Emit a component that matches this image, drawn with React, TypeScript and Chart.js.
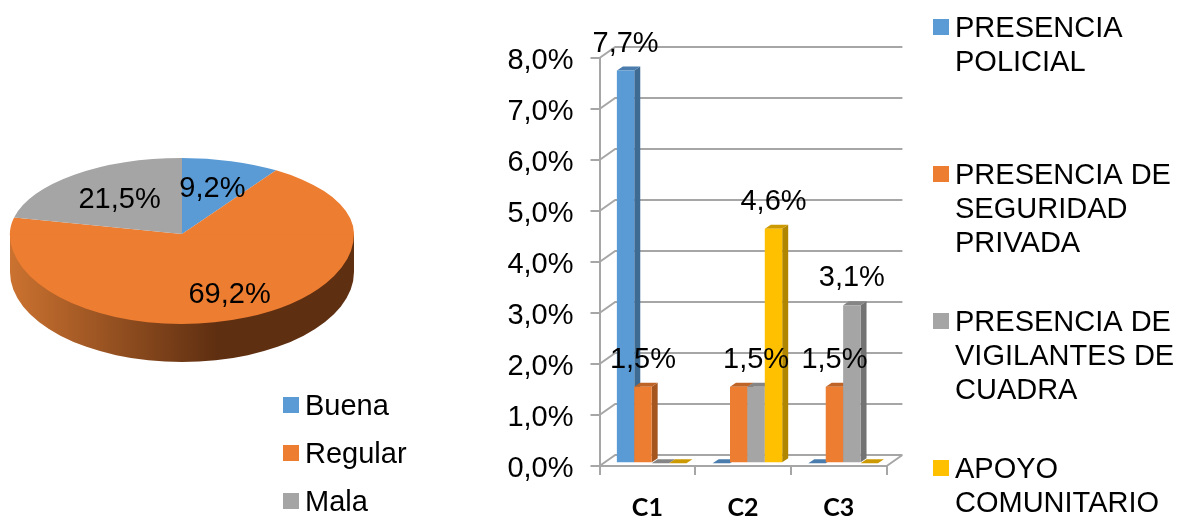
import React, { useEffect, useRef } from "react";
import { Chart, registerables } from "chart.js";

Chart.register(...registerables);

const pieLabels = ["Buena", "Regular", "Mala"];
const pieValues = [9.2, 69.2, 21.5];
const pieColors = ["#5B9BD5", "#ED7D31", "#A5A5A5"];
const pieLabelReach = [0.62, 0.733, 0.58];

const categories = ["C1", "C2", "C3"];
const policial = [7.7, 0, 0];
const seguridad = [1.5, 1.5, 1.5];
const vigilantes = [0, 1.5, 3.1];
const apoyo = [0, 4.6, 0];
const seriesNames = [
  ["PRESENCIA", "POLICIAL", ""],
  ["PRESENCIA DE", "SEGURIDAD", "PRIVADA"],
  ["PRESENCIA DE", "VIGILANTES DE", "CUADRA"],
  ["APOYO", "COMUNITARIO"],
];
const frontColors = ["#5B9BD5", "#ED7D31", "#A5A5A5", "#FFC000"];
const sideColors = ["#3D6B94", "#A5561F", "#737373", "#B08500"];
const topColors = ["#4A7DAD", "#BE6426", "#858585", "#CC9A00"];
// The value labels the reference leaves out: [dataset, category]
const unlabelled = ["1:1"];

const FONT = '"Liberation Sans", Arial, sans-serif';
const TEXT_SIZE = 29;
const GRID = "#A6A6A6";

const fmt = (v: number) => v.toFixed(1).replace(".", ",") + "%";

function swatch(color: string) {
  const c = document.createElement("canvas");
  c.width = 18;
  c.height = 20;
  const g = c.getContext("2d")!;
  g.fillStyle = color;
  g.fillRect(2, 0, 16, 16);
  return c;
}

const placeLegend = (left: number, top: number) => ({
  id: "placeLegend",
  afterLayout(chart: any) {
    const l = chart.legend;
    l.left = left;
    l.top = top;
    l.right = left + 400;
    l.bottom = top + 2000;
  },
});

const pie3d = {
  id: "pie3d",
  beforeDatasetsDraw(chart: any) {
    const ctx = chart.ctx;
    const arcs = chart.getDatasetMeta(0).data;
    const { x: cx, y: cy, outerRadius: r } = arcs[0];
    const kUp = 76 / 172;
    const kDown = 90 / 172;
    const depth = 38;
    const grad = ctx.createLinearGradient(cx - r, 0, cx + r, 0);
    grad.addColorStop(0, "#CB7230");
    grad.addColorStop(0.6, "#5F2F11");
    grad.addColorStop(1, "#5F2F11");
    ctx.save();
    ctx.fillStyle = grad;
    ctx.beginPath();
    ctx.moveTo(cx - r, cy);
    ctx.lineTo(cx - r, cy + depth);
    ctx.ellipse(cx, cy + depth, r, r * kDown, 0, Math.PI, 0, true);
    ctx.lineTo(cx + r, cy);
    ctx.closePath();
    ctx.fill();
    ctx.restore();
    const half = (clipY: number, clipH: number, k: number) => {
      ctx.save();
      ctx.beginPath();
      ctx.rect(0, clipY, chart.width, clipH);
      ctx.clip();
      ctx.translate(0, cy);
      ctx.scale(1, k);
      ctx.translate(0, -cy);
      arcs.forEach((a: any) => a.draw(ctx));
      ctx.restore();
    };
    half(cy, chart.height - cy, kDown);
    half(0, cy + 0.5, kUp);
    return false;
  },
  afterDraw(chart: any) {
    const ctx = chart.ctx;
    const kUp = 76 / 172;
    const kDown = 90 / 172;
    ctx.save();
    ctx.font = `${TEXT_SIZE}px ${FONT}`;
    ctx.fillStyle = "#000";
    ctx.textAlign = "center";
    ctx.textBaseline = "middle";
    chart.getDatasetMeta(0).data.forEach((a: any, i: number) => {
      const mid = (a.startAngle + a.endAngle) / 2;
      const d = a.outerRadius * pieLabelReach[i];
      const s = Math.sin(mid);
      ctx.fillText(fmt(pieValues[i]), a.x + Math.cos(mid) * d, a.y + s * d * (s < 0 ? kUp : kDown));
    });
    ctx.restore();
  },
};

const WALL_DX = 15.7;
const WALL_DY = -11;
const BAR_SHIFT_X = 4.3;
const BAR_SHIFT_Y = -2.7;
const BAR_DX = 6;
const BAR_DY = -4;

const bar3d = {
  id: "bar3d",
  beforeDatasetsDraw(chart: any) {
    const ctx = chart.ctx;
    const { x: xs, y: ys } = chart.scales;
    const left = xs.left;
    const right = xs.right;
    const zero = ys.getPixelForValue(0);
    ctx.save();
    ctx.strokeStyle = GRID;
    ctx.lineWidth = 2;
    ctx.beginPath();
    ys.ticks.forEach((t: any) => {
      const y = ys.getPixelForValue(t.value);
      ctx.moveTo(left, y);
      ctx.lineTo(left + WALL_DX, y + WALL_DY);
      ctx.lineTo(right + WALL_DX, y + WALL_DY);
    });
    ctx.moveTo(right, zero);
    ctx.lineTo(right + WALL_DX, zero + WALL_DY);
    ctx.stroke();
    ctx.translate(BAR_SHIFT_X, BAR_SHIFT_Y);
    categories.forEach((_, c) => {
      chart.data.datasets.forEach((_d: any, i: number) => {
        const el = chart.getDatasetMeta(i).data[c];
        const { x, y, base, width } = el.getProps(["x", "y", "base", "width"]);
        const l = x - width / 2;
        const r = x + width / 2;
        ctx.fillStyle = sideColors[i];
        ctx.beginPath();
        ctx.moveTo(r, y);
        ctx.lineTo(r + BAR_DX, y + BAR_DY);
        ctx.lineTo(r + BAR_DX, base + BAR_DY);
        ctx.lineTo(r, base);
        ctx.closePath();
        ctx.fill();
        ctx.fillStyle = topColors[i];
        ctx.beginPath();
        ctx.moveTo(l, y);
        ctx.lineTo(l + BAR_DX, y + BAR_DY);
        ctx.lineTo(r + BAR_DX, y + BAR_DY);
        ctx.lineTo(r, y);
        ctx.closePath();
        ctx.fill();
        el.draw(ctx);
      });
    });
    ctx.restore();
    return false;
  },
  afterDraw(chart: any) {
    const ctx = chart.ctx;
    ctx.save();
    ctx.font = `${TEXT_SIZE}px ${FONT}`;
    ctx.fillStyle = "#000";
    ctx.textAlign = "center";
    ctx.textBaseline = "middle";
    chart.data.datasets.forEach((d: any, i: number) => {
      chart.getDatasetMeta(i).data.forEach((el: any, c: number) => {
        const v = d.data[c];
        if (!v || unlabelled.includes(`${i}:${c}`)) return;
        ctx.fillText(fmt(v), el.x + BAR_SHIFT_X, el.y + BAR_SHIFT_Y - 27);
      });
    });
    ctx.restore();
  },
};

export default function App() {
  const pieRef = useRef<HTMLCanvasElement>(null);
  const barRef = useRef<HTMLCanvasElement>(null);

  useEffect(() => {
    const legendFont = { family: FONT, size: TEXT_SIZE, lineHeight: 34 / TEXT_SIZE };
    const pie = new Chart(pieRef.current!, {
      type: "pie",
      data: {
        labels: pieLabels,
        datasets: [{ data: pieValues, backgroundColor: pieColors, borderWidth: 0 }],
      },
      options: {
        responsive: false,
        animation: false,
        layout: { padding: { left: 10, right: 86, top: 62, bottom: 111 } },
        plugins: {
          tooltip: { enabled: false },
          legend: {
            position: "chartArea",
            align: "start",
            labels: {
              usePointStyle: true,
              boxWidth: 1,
              boxHeight: 16,
              padding: 19,
              color: "#000",
              font: { family: FONT, size: TEXT_SIZE },
              generateLabels: () =>
                pieLabels.map((text, i) => ({
                  text,
                  fillStyle: pieColors[i],
                  pointStyle: swatch(pieColors[i]),
                  lineWidth: 0,
                  hidden: false,
                  index: i,
                })),
            },
          },
        },
      } as any,
      plugins: [pie3d, placeLegend(270.5, 373.5)],
    } as any);

    const seriesValues = [policial, seguridad, vigilantes, apoyo];
    const bar = new Chart(barRef.current!, {
      type: "bar",
      data: {
        labels: categories,
        datasets: seriesValues.map((data, i) => ({
          label: seriesNames[i].join(" "),
          data,
          backgroundColor: frontColors[i],
          borderWidth: 0,
          categoryPercentage: 0.727,
          barPercentage: 1,
        })),
      },
      options: {
        responsive: false,
        animation: false,
        layout: { padding: { left: 29.5, right: 93.3, top: 58, bottom: 174 } },
        scales: {
          y: {
            min: 0,
            max: 8,
            afterFit: (s: any) => {
              s.width = 100;
            },
            ticks: {
              stepSize: 1,
              padding: 17,
              labelOffset: 3,
              color: "#000",
              font: { family: FONT, size: TEXT_SIZE },
              callback: (v: any) => fmt(Number(v)),
            },
            grid: { drawOnChartArea: false, color: GRID, lineWidth: 2, tickLength: 9 },
            border: { color: GRID, width: 2 },
          },
          x: {
            afterFit: (s: any) => {
              s.height = 60;
            },
            ticks: {
              padding: 18,
              color: "#000",
              maxRotation: 0,
              font: { family: 'Lato, "Open Sans", sans-serif', size: 25, weight: "bold" },
            },
            grid: { drawOnChartArea: false, color: GRID, lineWidth: 2, tickLength: 9 },
            border: { color: GRID, width: 2 },
          },
        },
        plugins: {
          tooltip: { enabled: false },
          legend: {
            position: "right",
            align: "start",
            maxWidth: 200,
            labels: {
              usePointStyle: true,
              boxWidth: 1,
              boxHeight: 16,
              padding: 45,
              color: "#000",
              font: legendFont,
              generateLabels: () =>
                seriesNames.map((text, i) => ({
                  text,
                  fillStyle: frontColors[i],
                  pointStyle: swatch(frontColors[i]),
                  lineWidth: 0,
                  hidden: false,
                  datasetIndex: i,
                })),
            },
          },
        },
      } as any,
      plugins: [bar3d, placeLegend(424.5, -30.5)],
    } as any);

    return () => {
      pie.destroy();
      bar.destroy();
    };
  }, []);

  return (
    <div style={{ position: "fixed", left: 0, top: 0, width: 1180, height: 517, overflow: "hidden", background: "#fff" }}>
      <canvas ref={pieRef} width={440} height={517} style={{ position: "absolute", left: 0, top: 0 }} />
      <canvas ref={barRef} width={710} height={700} style={{ position: "absolute", left: 470, top: 0 }} />
    </div>
  );
}
